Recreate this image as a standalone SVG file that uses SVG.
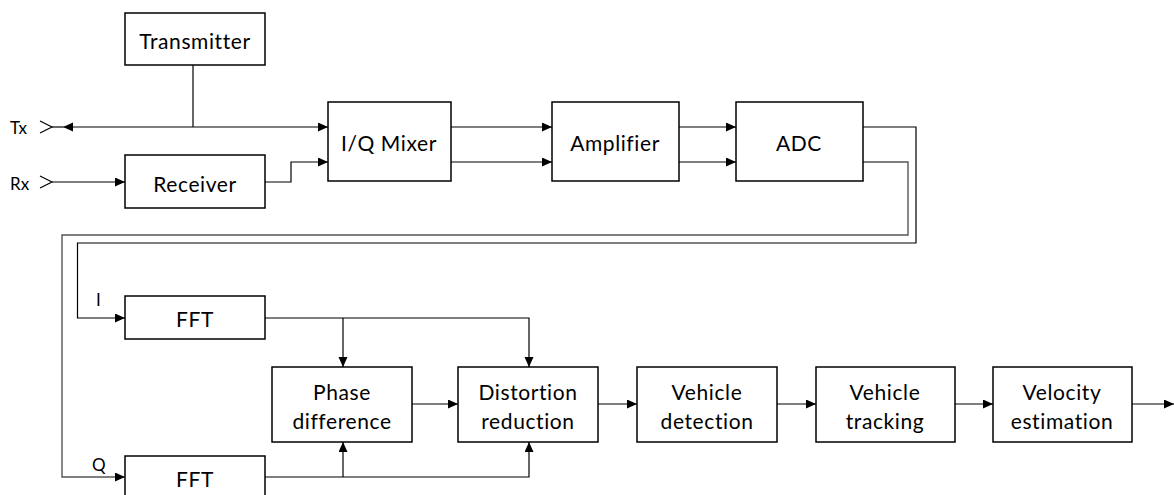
<svg xmlns="http://www.w3.org/2000/svg" width="1174" height="495" viewBox="0 0 1174 495">
<style>
.box{fill:#fff;stroke:#000;stroke-width:1.5}
.t{font-family:Lato,"Liberation Sans",sans-serif;font-size:21px;letter-spacing:0.6px;fill:#000;text-anchor:middle;dominant-baseline:central}
.s{font-family:Lato,"Liberation Sans",sans-serif;font-size:17px;fill:#000;dominant-baseline:central}
.w{fill:none;stroke:#000;stroke-width:1.2}
.g{fill:none;stroke:#555;stroke-width:1.4}
</style>
<defs>
<marker id="a" markerUnits="userSpaceOnUse" markerWidth="10" markerHeight="10" refX="10" refY="4.5" orient="auto-start-reverse"><path d="M0,0 L10,4.5 L0,9 z" fill="#000"/></marker>
</defs>
<g id="connectors">
<path class="w" d="M40,121 L52,127 L40,133"/>
<path class="w" d="M40,176 L52,182 L40,188"/>
<path class="w" d="M52,127 H63"/>
<path class="w" d="M63,127 H328" marker-start="url(#a)" marker-end="url(#a)"/>
<path class="w" d="M193,65 V127"/>
<path class="w" d="M52,182 H125" marker-end="url(#a)"/>
<path class="w" d="M265,182 H291 V162 H328" marker-end="url(#a)"/>
<path class="w" d="M451,127 H552" marker-end="url(#a)"/>
<path class="g" d="M451,162 H552" marker-end="url(#a)"/>
<path class="w" d="M679,127 H736" marker-end="url(#a)"/>
<path class="g" d="M679,162 H736" marker-end="url(#a)"/>
<path class="w" d="M863,127 H916 V243 H77.5 V318 H125" marker-end="url(#a)"/>
<path class="g" d="M863,162 H908 V235 H62 V477 H125" marker-end="url(#a)"/>
<path class="w" d="M265,318 H529 V367" marker-end="url(#a)"/>
<path class="w" d="M343,318 V367" marker-end="url(#a)"/>
<path class="w" d="M265,477 H529 V442" marker-end="url(#a)"/>
<path class="w" d="M343,477 V442" marker-end="url(#a)"/>
<path class="g" d="M412,404 H458" marker-end="url(#a)"/>
<path class="g" d="M598,404 H637" marker-end="url(#a)"/>
<path class="g" d="M777,404 H816" marker-end="url(#a)"/>
<path class="g" d="M955,404 H993" marker-end="url(#a)"/>
<path class="g" d="M1132,404 H1174" marker-end="url(#a)"/>
</g>
<text class="s" x="10" y="127">Tx</text>
<text class="s" x="10" y="183">Rx</text>
<text class="s" x="96" y="299">I</text>
<text class="s" x="92" y="464">Q</text>
<g id="transmitter"><rect class="box" x="125" y="13" width="140" height="52"/><text class="t" x="195" y="40">Transmitter</text></g>
<g id="receiver"><rect class="box" x="125" y="155" width="140" height="53"/><text class="t" x="195" y="183">Receiver</text></g>
<g id="mixer"><rect class="box" x="328" y="102" width="123" height="79"/><text class="t" x="389" y="142">I/Q Mixer</text></g>
<g id="amplifier"><rect class="box" x="552" y="102" width="127" height="79"/><text class="t" x="615" y="142">Amplifier</text></g>
<g id="adc"><rect class="box" x="736" y="102" width="127" height="79"/><text class="t" x="799" y="142">ADC</text></g>
<g id="fft-i"><rect class="box" x="125" y="296" width="140" height="43"/><text class="t" x="195" y="318">FFT</text></g>
<g id="fft-q"><rect class="box" x="125" y="456" width="140" height="50"/><text class="t" x="195" y="478">FFT</text></g>
<g id="phase"><rect class="box" x="272" y="367" width="140" height="75"/><text class="t" x="342" y="391">Phase</text><text class="t" x="342" y="420">difference</text></g>
<g id="distortion"><rect class="box" x="458" y="367" width="140" height="75"/><text class="t" x="528" y="391">Distortion</text><text class="t" x="528" y="420">reduction</text></g>
<g id="detection"><rect class="box" x="637" y="367" width="140" height="75"/><text class="t" x="707" y="391">Vehicle</text><text class="t" x="707" y="420">detection</text></g>
<g id="tracking"><rect class="box" x="816" y="367" width="139" height="75"/><text class="t" x="885" y="391">Vehicle</text><text class="t" x="885" y="420">tracking</text></g>
<g id="velocity"><rect class="box" x="993" y="367" width="139" height="75"/><text class="t" x="1062" y="391">Velocity</text><text class="t" x="1062" y="420">estimation</text></g>
</svg>
